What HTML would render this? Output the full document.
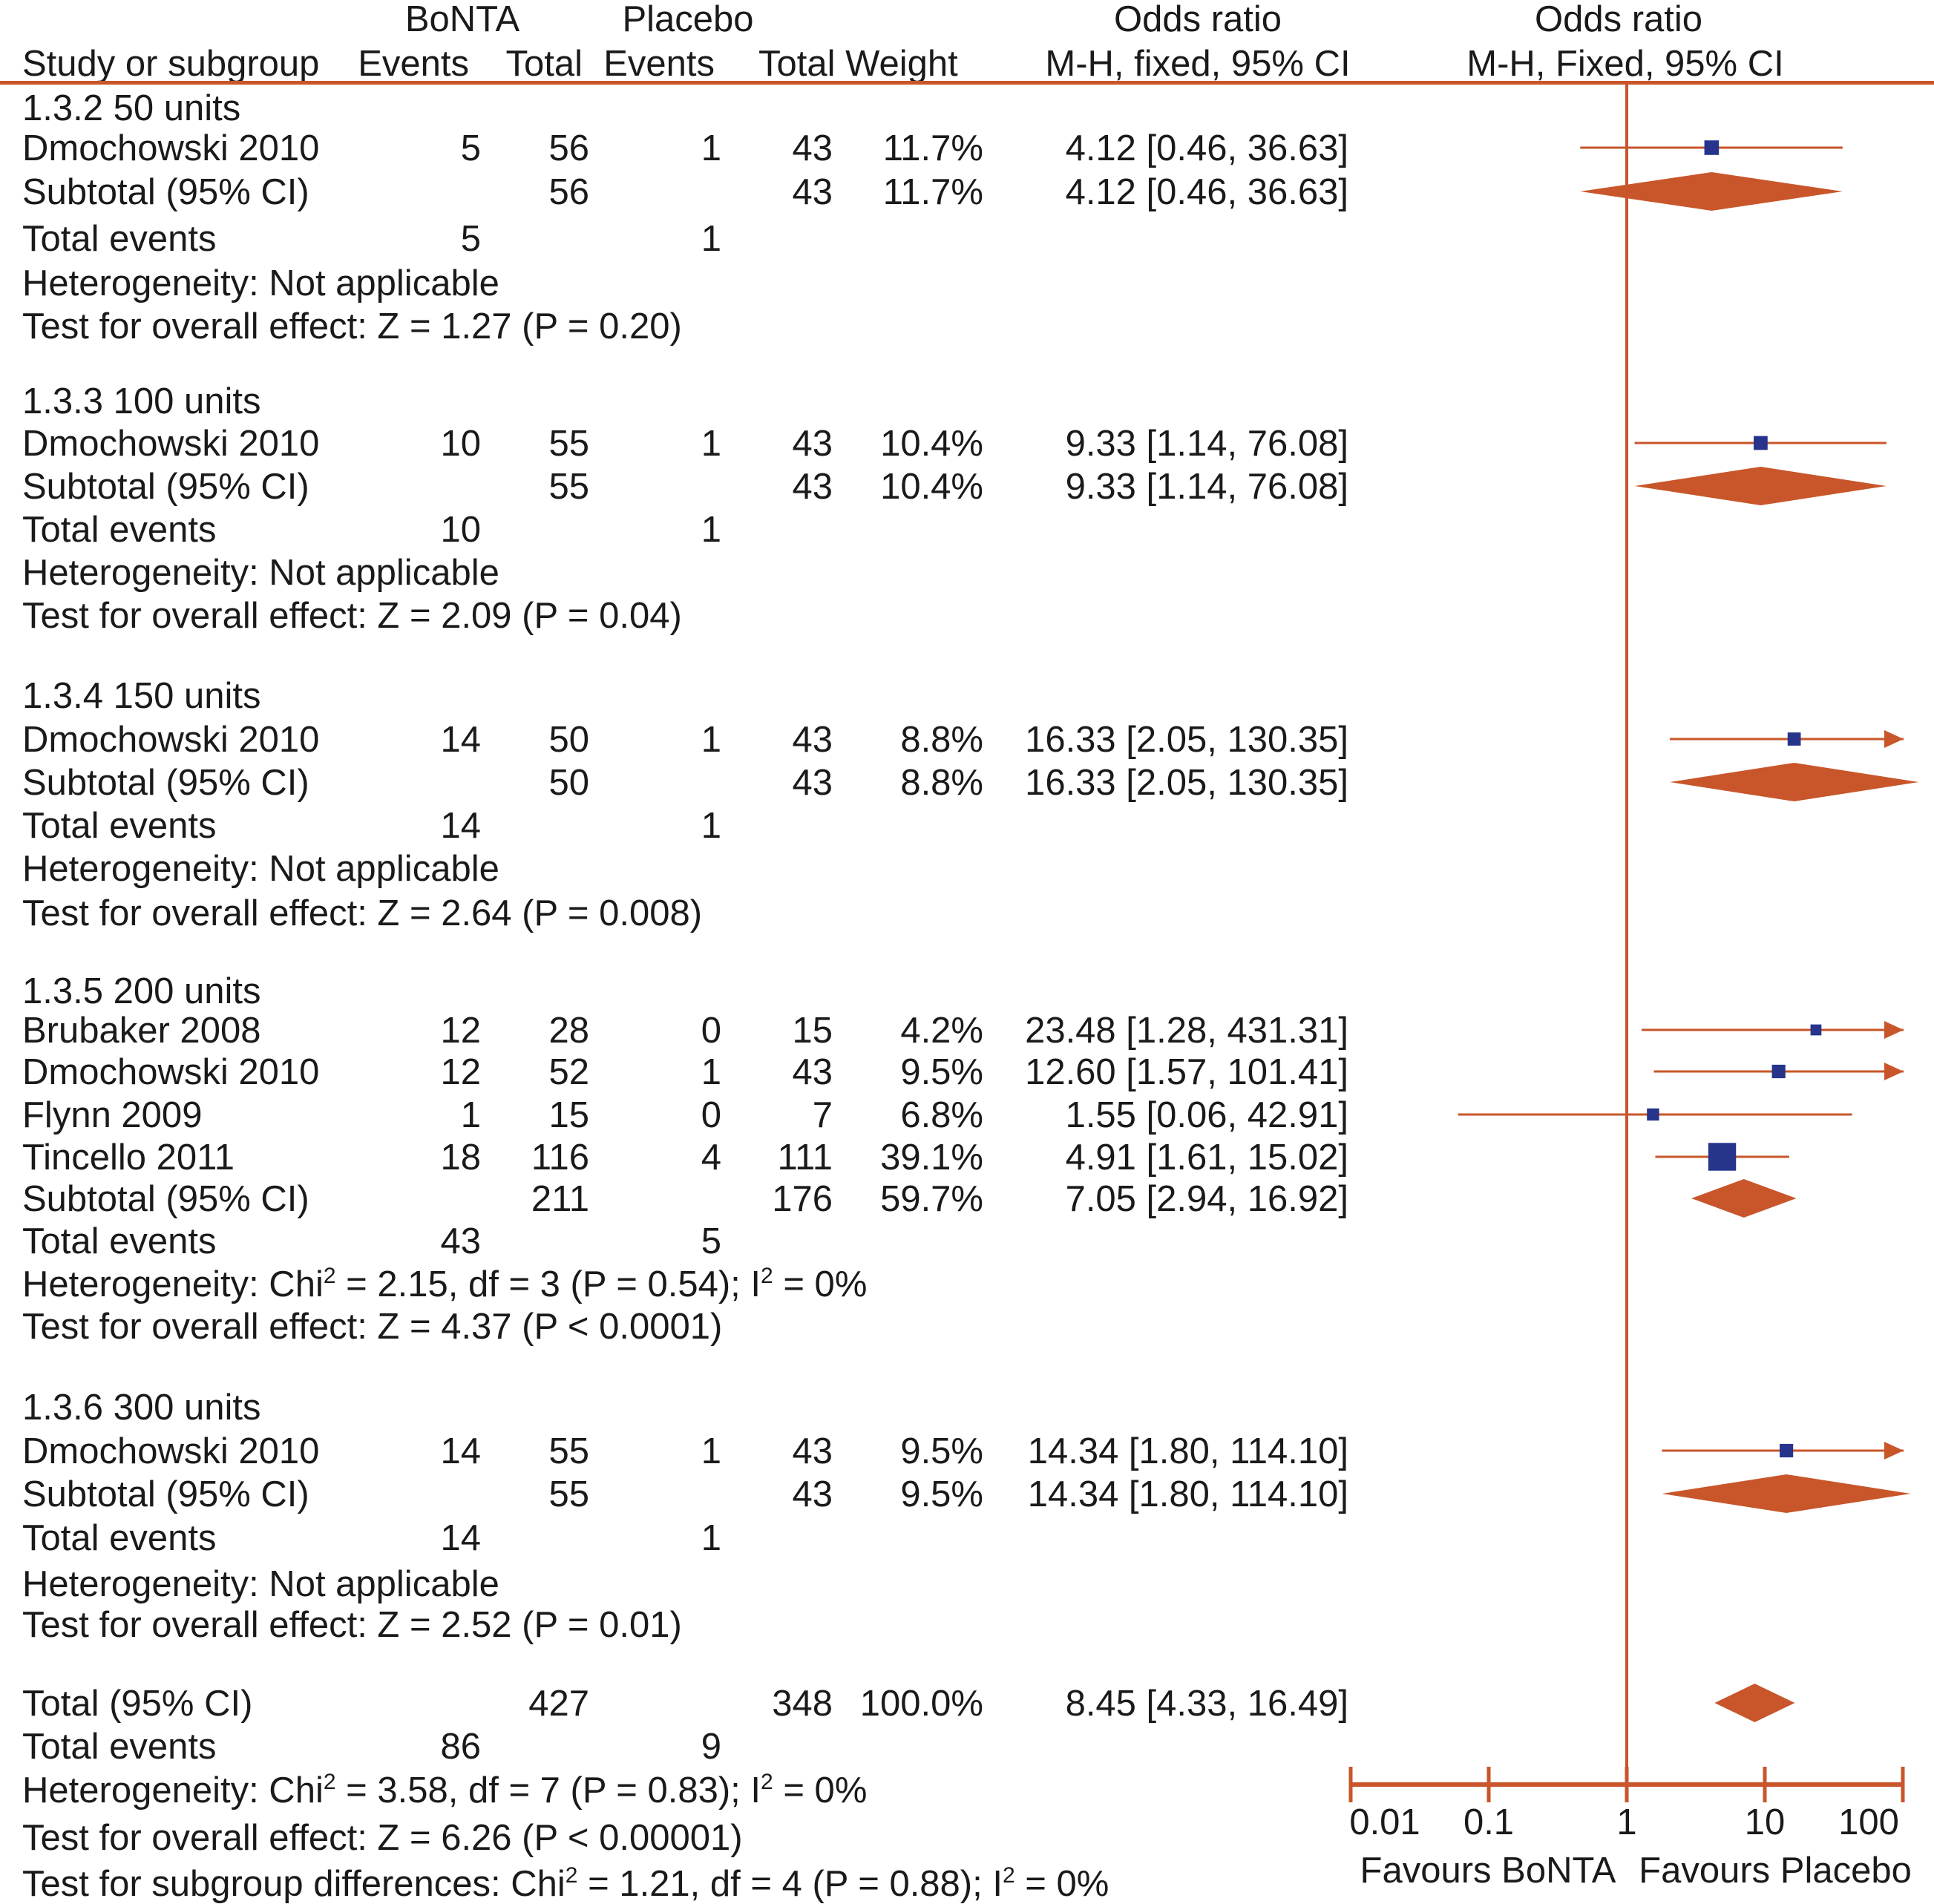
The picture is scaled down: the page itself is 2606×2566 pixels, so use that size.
<!DOCTYPE html>
<html><head><meta charset="utf-8"><style>
html,body{margin:0;padding:0;background:#fff;}
svg{display:block;}
text{font-family:"Liberation Sans",Arial,sans-serif;font-size:49px;fill:#1a1a1a;}
</style></head><body>
<svg id="chart" width="2606" height="2566" viewBox="0 0 2606 2566" xmlns="http://www.w3.org/2000/svg">
<g>
<text x="623" y="42" text-anchor="middle">BoNTA</text>
<text x="927" y="42" text-anchor="middle">Placebo</text>
<text x="1614" y="42" text-anchor="middle">Odds ratio</text>
<text x="2181" y="42" text-anchor="middle">Odds ratio</text>
<text x="30" y="102">Study or subgroup</text>
<text x="632" y="102" text-anchor="end">Events</text>
<text x="785" y="102" text-anchor="end">Total</text>
<text x="963" y="102" text-anchor="end">Events</text>
<text x="1022" y="102">Total Weight</text>
<text x="1614" y="102" text-anchor="middle">M-H, fixed, 95% CI</text>
<text x="2190" y="102" text-anchor="middle">M-H, Fixed, 95% CI</text>
</g>
<rect x="0" y="109" width="2606" height="5" fill="#c8562a"/>
<g id="table"></g>
<g id="plot"></g>
</svg>
<script>
// ---- chart data ----
const rowKeys = ["s1","t1","s2","t2","s3","t3","s4a","s4b","s4c","s4d","t4","s5","t5","tot"];
const orValues = [4.12,4.12,9.33,9.33,16.33,16.33,23.48,12.60,1.55,4.91,7.05,14.34,14.34,8.45];
const ciLow = [0.46,0.46,1.14,1.14,2.05,2.05,1.28,1.57,0.06,1.61,2.94,1.80,1.80,4.33];
const ciHigh = [36.63,36.63,76.08,76.08,130.35,130.35,431.31,101.41,42.91,15.02,16.92,114.10,114.10,16.49];
const weights = [11.7,11.7,10.4,10.4,8.8,8.8,4.2,9.5,6.8,39.1,59.7,9.5,9.5,100.0];
const isDiamond = [false,true,false,true,false,true,false,false,false,false,true,false,true,true];
const tickValues = [0.01,0.1,1,10,100];
const tickLabels = ["0.01","0.1","1","10","100"];

// layout (row centre lines)
const rowY = {s1:199,t1:258,s2:597,t2:655,s3:996,t3:1054,s4a:1388,s4b:1444,s4c:1502,s4d:1559,t4:1615,s5:1955,t5:2013,tot:2295};
const NS="http://www.w3.org/2000/svg";
const X0=2192, DEC=186, AXY=2405, XMIN=1820, XMAX=2565;
function xScale(v){return X0+DEC*Math.log10(v);}
function mk(tag,attrs,parent){const e=document.createElementNS(NS,tag);for(const k in attrs)e.setAttribute(k,attrs[k]);parent.appendChild(e);return e;}

// ---- table text ----
const tbl=document.getElementById('table');
const rows=[
 [145,"1.3.2 50 units"],
 [199,"Dmochowski 2010","5","56","1","43","11.7%","4.12 [0.46, 36.63]"],
 [258,"Subtotal (95% CI)","","56","","43","11.7%","4.12 [0.46, 36.63]"],
 [321,"Total events","5","","1"],
 [381,"Heterogeneity: Not applicable"],
 [439,"Test for overall effect: Z = 1.27 (P = 0.20)"],
 [540,"1.3.3 100 units"],
 [597,"Dmochowski 2010","10","55","1","43","10.4%","9.33 [1.14, 76.08]"],
 [655,"Subtotal (95% CI)","","55","","43","10.4%","9.33 [1.14, 76.08]"],
 [713,"Total events","10","","1"],
 [771,"Heterogeneity: Not applicable"],
 [829,"Test for overall effect: Z = 2.09 (P = 0.04)"],
 [937,"1.3.4 150 units"],
 [996,"Dmochowski 2010","14","50","1","43","8.8%","16.33 [2.05, 130.35]"],
 [1054,"Subtotal (95% CI)","","50","","43","8.8%","16.33 [2.05, 130.35]"],
 [1112,"Total events","14","","1"],
 [1170,"Heterogeneity: Not applicable"],
 [1230,"Test for overall effect: Z = 2.64 (P = 0.008)"],
 [1335,"1.3.5 200 units"],
 [1388,"Brubaker 2008","12","28","0","15","4.2%","23.48 [1.28, 431.31]"],
 [1444,"Dmochowski 2010","12","52","1","43","9.5%","12.60 [1.57, 101.41]"],
 [1502,"Flynn 2009","1","15","0","7","6.8%","1.55 [0.06, 42.91]"],
 [1559,"Tincello 2011","18","116","4","111","39.1%","4.91 [1.61, 15.02]"],
 [1615,"Subtotal (95% CI)","","211","","176","59.7%","7.05 [2.94, 16.92]"],
 [1672,"Total events","43","","5"],
 [1730,"HET|2.15|3|0.54"],
 [1787,"Test for overall effect: Z = 4.37 (P < 0.0001)"],
 [1896,"1.3.6 300 units"],
 [1955,"Dmochowski 2010","14","55","1","43","9.5%","14.34 [1.80, 114.10]"],
 [2013,"Subtotal (95% CI)","","55","","43","9.5%","14.34 [1.80, 114.10]"],
 [2072,"Total events","14","","1"],
 [2134,"Heterogeneity: Not applicable"],
 [2189,"Test for overall effect: Z = 2.52 (P = 0.01)"],
 [2295,"Total (95% CI)","","427","","348","100.0%","8.45 [4.33, 16.49]"],
 [2353,"Total events","86","","9"],
 [2412,"HET|3.58|7|0.83"],
 [2476,"Test for overall effect: Z = 6.26 (P < 0.00001)"],
 [2538,"SUB"]
];
const colX=[648,794,972,1122,1325,1817];
rows.forEach(r=>{
 const y=r[0]+17;
 let lab=r[1];
 const t=mk('text',{x:30,y:y},tbl);
 
 
 if(lab.startsWith("HET")){
  const p=lab.split("|");
  t.innerHTML='Heterogeneity: Chi<tspan dy="-18" font-size="30">2</tspan><tspan dy="18"> = '+p[1]+', df = '+p[2]+' (P = '+p[3]+'); I</tspan><tspan dy="-18" font-size="30">2</tspan><tspan dy="18"> = 0%</tspan>';
 } else if(lab==="SUB"){
  t.innerHTML='Test for subgroup differences: Chi<tspan dy="-18" font-size="30">2</tspan><tspan dy="18"> = 1.21, df = 4 (P = 0.88); I</tspan><tspan dy="-18" font-size="30">2</tspan><tspan dy="18"> = 0%</tspan>';
 } else t.textContent=lab;
 for(let i=2;i<r.length;i++){
  if(!r[i])continue;
  const c=mk('text',{x:colX[i-2],y:y,'text-anchor':'end'},tbl);
  
  
  c.textContent=r[i];
 }
});

// ---- plot ----
const plot=document.getElementById('plot');
const OR="#c8562a", NAVY="#26348c";
const vl=mk('line',{x1:xScale(1),x2:xScale(1),y1:111,y2:AXY,stroke:OR,'stroke-width':4},plot);


const ax=mk('line',{x1:xScale(0.01),x2:xScale(100),y1:AXY,y2:AXY,stroke:OR,'stroke-width':6},plot);


tickValues.forEach((v,i)=>{
 const tk=mk('line',{x1:xScale(v),x2:xScale(v),y1:AXY-24,y2:AXY+24,stroke:OR,'stroke-width':5},plot);
 
 
 const tl=mk('text',{x:xScale(v)+(i===0?46:i===4?-46:0),y:AXY+67,'text-anchor':'middle'},plot);
 
 
 tl.textContent=tickLabels[i];
});
const f1=mk('text',{x:2005,y:2537,'text-anchor':'middle'},plot);


f1.textContent="Favours BoNTA";
const f2=mk('text',{x:2392,y:2537,'text-anchor':'middle'},plot);


f2.textContent="Favours Placebo";

rowKeys.forEach((k,i)=>{
 const y=rowY[k];
 const xc=xScale(orValues[i]), xl=xScale(ciLow[i]), xh=xScale(ciHigh[i]);
 if(isDiamond[i]){
  const h=26;
  const d=mk('polygon',{points:`${xl},${y} ${xc},${y-h} ${xh},${y} ${xc},${y+h}`,fill:OR},plot);
  
  
 } else {
  const cl=Math.max(xl,XMIN), ch=Math.min(xh,XMAX);
  const ln=mk('line',{x1:cl,x2:ch,y1:y,y2:y,stroke:OR,'stroke-width':3},plot);
  
  
  if(xh>XMAX){
   const a=mk('polygon',{points:`${XMAX},${y} ${XMAX-26},${y-12} ${XMAX-26},${y+12}`,fill:OR},plot);
   
   
  }
  const s=12+weights[i]*0.65;
  const sq=mk('rect',{x:xc-s/2,y:y-s/2,width:s,height:s,fill:NAVY},plot);
  
  
 }
});
</script>
</body></html>
